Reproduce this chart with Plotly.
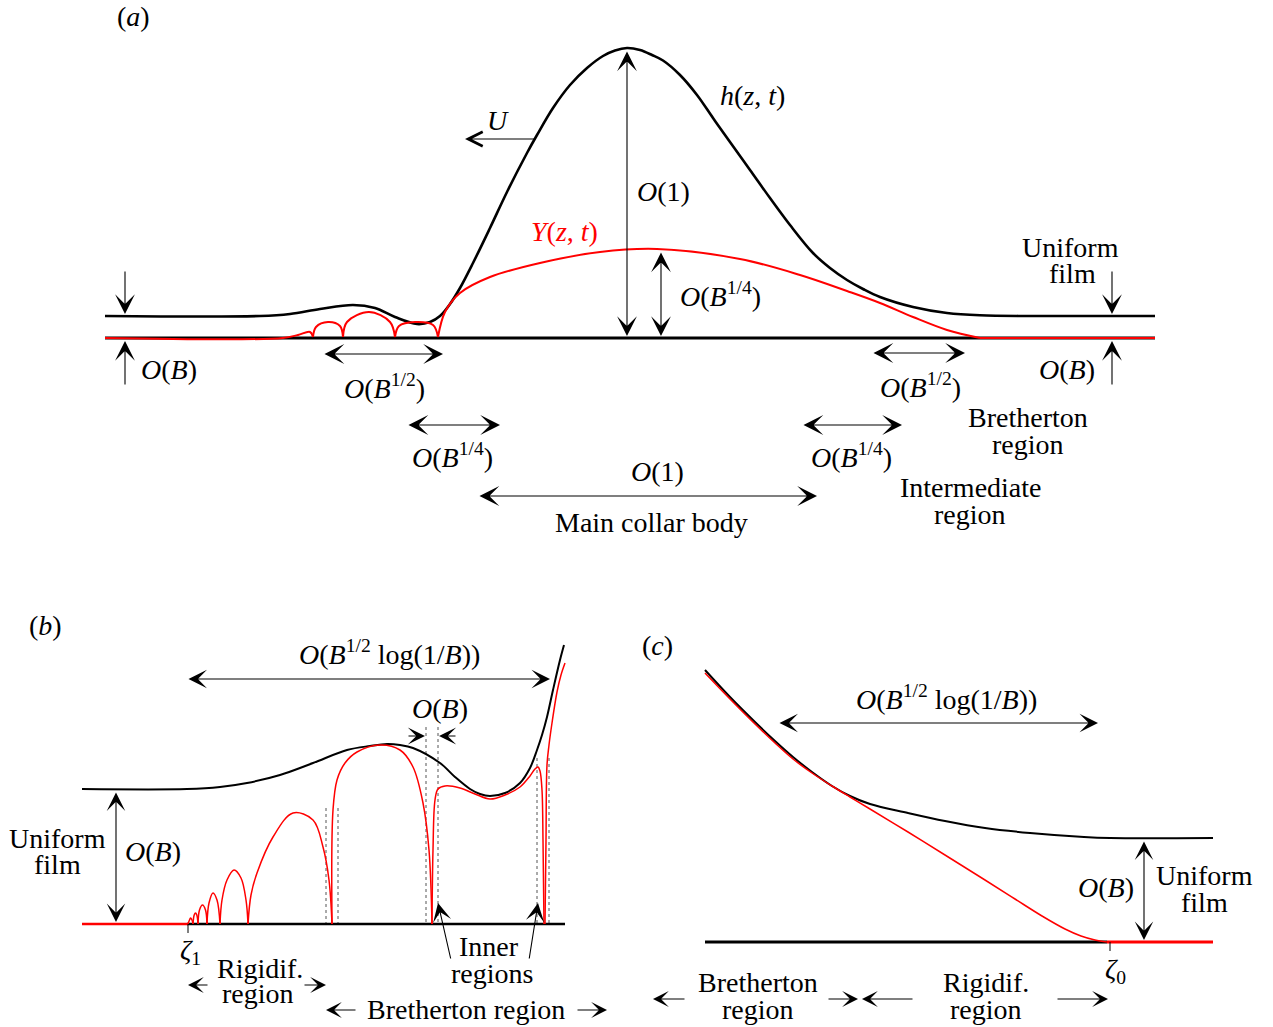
import plotly.graph_objects as go

# ---------------- data (picture coordinates, y downwards) -------------
# Panel (a): collar film h(z,t), rigidified layer Y(z,t), wall
A_H_Z = [105, 260, 290, 320, 353, 375, 395, 417, 430, 440, 450, 460, 473, 490, 507, 527, 537, 553,
         570, 587, 603, 615, 627, 640, 652, 663, 680, 697, 713, 730, 750, 770, 790, 813, 830, 847,
         863, 880, 913, 947, 980, 1030, 1155]
A_H_Y = [316, 316, 314, 309, 305, 308, 317, 324, 322, 316, 304, 288, 263, 228, 192, 153, 135, 108,
         85, 68, 56, 50.5, 48, 50, 55, 60.5, 75, 95, 118, 142, 170, 198, 225, 253, 268, 280,
         289, 297, 307, 313, 315.3, 316, 316]
A_WALL_Z = [105, 1155]
A_WALL_Y = [338, 338]
A_Y_SEG0_Z = [105, 283, 298, 310, 313]
A_Y_SEG0_Y = [338, 338, 335, 332, 337]
A_Y_SEG1_Z = [313, 316, 328, 340, 343]
A_Y_SEG1_Y = [337, 327, 322, 326, 337]
A_Y_SEG2_Z = [343, 347, 369, 390, 395]
A_Y_SEG2_Y = [337, 322, 312, 322, 337]
A_Y_SEG3_Z = [395, 399, 415, 433, 438]
A_Y_SEG3_Y = [337, 326, 322, 325, 337]
A_Y_SEG4_Z = [438, 445, 460, 490, 540, 600, 657, 740, 800, 847, 880, 913, 947, 980]
A_Y_SEG4_Y = [337, 312, 293, 277, 263, 252, 249, 259, 275, 291, 303, 317, 330, 338]
A_Y_SEG5_Z = [980, 1155]
A_Y_SEG5_Y = [338, 338]

# Panel (b)
B_H_Z = [82, 187, 220, 247, 280, 313, 347, 370, 387, 400, 413, 440, 455, 470, 480, 490, 505, 520,
         530, 537, 542, 547, 553, 560, 564]
B_H_Y = [789, 789, 787, 783, 775, 763, 750, 746, 744, 745, 748, 763, 777, 789, 794, 796, 793, 783,
         768, 750, 735, 717, 690, 660, 645]
B_WALL_Z = [187, 565]
B_WALL_Y = [924, 924]
B_Y_FLAT_Z = [82, 188]
B_Y_FLAT_Y = [924, 924]
B_Y_ARCS = [
    ([188, 189.5, 190.5, 192, 193], [924, 920, 918, 920, 924]),
    ([193, 194.2, 195.5, 196.8, 198], [924, 915, 913, 915, 924]),
    ([198, 199.5, 202.5, 205.5, 207], [924, 910, 905, 910, 924]),
    ([207, 209, 213, 217, 220], [924, 903, 893, 900, 924]),
    ([220, 222, 227, 234, 241, 246, 248], [924, 900, 880, 870, 878, 900, 924]),
    ([248, 251, 257, 273, 293, 313, 323, 329, 332], [924, 895, 873, 837, 813, 820, 847, 880, 924]),
    ([332, 333, 337, 345, 357, 380, 400, 413, 423, 429, 432],
     [924, 810, 780, 763, 752, 745, 750, 767, 803, 850, 924]),
    ([432, 433, 435, 438, 445, 460, 475, 490, 505, 520, 530, 535, 538, 540, 542, 543, 544],
     [924, 850, 800, 789, 786, 788, 794, 799, 795, 787, 776, 769, 767, 771, 790, 840, 924]),
    ([545, 546, 547, 549, 552, 557, 561, 565], [924, 840, 765, 745, 723, 692, 675, 663]),
]
B_DOT_Z = [326, 338, 426, 438, 537, 549]
B_DOT_TOP = [808, 808, 727, 727, 758, 758]
B_DOT_BOTTOM = 924

# Panel (c)
C_H_Z = [705, 730, 755, 775, 793, 812, 832, 850, 870, 908, 945, 985, 1030, 1084, 1110, 1213]
C_H_Y = [670, 697, 722, 741, 757, 772, 786, 796, 804, 813, 821, 828, 833, 837, 838, 838]
C_Y_Z = [705, 730, 755, 775, 793, 812, 832, 850, 870, 908, 945, 985, 1015, 1042, 1065, 1081, 1095, 1107]
C_Y_Y = [673, 699, 724, 743, 759, 773, 786, 797, 809, 832, 855, 880, 899, 916, 929, 936, 940, 942]
C_WALL_Z = [705, 1107]
C_WALL_Y = [942, 942]
C_Y_FLAT_Z = [1107, 1213]
C_Y_FLAT_Y = [942, 942]

# Arrows: (head_x, head_y, tail_x, tail_y, double_headed, head_size, style)
ARROWS = [
    # panel (a)
    (125, 314, 125, 270, False, 3.0, 3),
    (125, 341, 125, 386, False, 3.0, 3),
    (1112, 314, 1112, 270, False, 3.0, 3),
    (1112, 341, 1112, 386, False, 3.0, 3),
    (443, 354, 323, 354, True, 3.0, 3),
    (500, 425, 407, 425, True, 3.0, 3),
    (817, 496, 478, 496, True, 3.0, 3),
    (902, 425, 802, 425, True, 3.0, 3),
    (965, 353, 872, 353, True, 3.0, 3),
    (627, 336, 627, 50, True, 3.0, 3),
    (661, 336, 661, 251, True, 3.0, 3),
    (465, 139, 536, 139, False, 2.6, 5),
    # panel (b)
    (550, 679, 187, 679, True, 2.8, 3),
    (425, 736, 407, 736, False, 2.6, 3),
    (439, 736, 457, 736, False, 2.6, 3),
    (116, 922, 116, 791, True, 2.8, 3),
    (438, 903, 451, 960, False, 2.8, 3),
    (538, 903, 529, 960, False, 2.8, 3),
    (188, 985, 209, 985, False, 2.4, 3),
    (326, 985, 303, 985, False, 2.4, 3),
    (326, 1010, 357, 1010, False, 2.4, 3),
    (607, 1010, 576, 1010, False, 2.4, 3),
    # panel (c)
    (1098, 723, 778, 723, True, 2.8, 3),
    (1144, 940, 1144, 840, True, 2.8, 3),
    (653, 999, 686, 999, False, 2.4, 3),
    (858, 999, 827, 999, False, 2.4, 3),
    (862, 999, 914, 999, False, 2.4, 3),
    (1108, 999, 1056, 999, False, 2.4, 3),
]

# Text labels: (x, y, text, colour)
O = "<i>O</i>"
B = "<i>B</i>"
TEXTS = [
    (133, 16, "(<i>a</i>)", "black"),
    (498, 120, "<i>U</i>", "black"),
    (752, 95, "<i>h</i>(<i>z</i>, <i>t</i>)", "black"),
    (663, 191, O + "(1)", "black"),
    (564, 231, "<i>Y</i>(<i>z</i>, <i>t</i>)", "red"),
    (720, 294, O + "(" + B + "<sup>1/4</sup>)", "black"),
    (169, 369, O + "(" + B + ")", "black"),
    (384, 386, O + "(" + B + "<sup>1/2</sup>)", "black"),
    (452, 455, O + "(" + B + "<sup>1/4</sup>)", "black"),
    (657, 471, O + "(1)", "black"),
    (651, 522, "Main collar body", "black"),
    (851, 455, O + "(" + B + "<sup>1/4</sup>)", "black"),
    (970, 487, "Intermediate", "black"),
    (970, 514, "region", "black"),
    (920, 385, O + "(" + B + "<sup>1/2</sup>)", "black"),
    (1028, 417, "Bretherton", "black"),
    (1028, 444, "region", "black"),
    (1067, 369, O + "(" + B + ")", "black"),
    (1070, 247, "Uniform", "black"),
    (1072, 273, "film", "black"),
    # panel (b)
    (45, 625, "(<i>b</i>)", "black"),
    (389, 652, O + "(" + B + "<sup>1/2</sup> log(1/" + B + "))", "black"),
    (440, 708, O + "(" + B + ")", "black"),
    (153, 851, O + "(" + B + ")", "black"),
    (57, 838, "Uniform", "black"),
    (57, 864, "film", "black"),
    (190, 951, "<i>ζ</i><sub>1</sub>", "black"),
    (489, 946, "Inner", "black"),
    (492, 973, "regions", "black"),
    (260, 968, "Rigidif.", "black"),
    (258, 993, "region", "black"),
    (466, 1009, "Bretherton region", "black"),
    # panel (c)
    (657, 645, "(<i>c</i>)", "black"),
    (946, 697, O + "(" + B + "<sup>1/2</sup> log(1/" + B + "))", "black"),
    (1106, 887, O + "(" + B + ")", "black"),
    (1204, 875, "Uniform", "black"),
    (1204, 902, "film", "black"),
    (1115, 970, "<i>ζ</i><sub>0</sub>", "black"),
    (758, 982, "Bretherton", "black"),
    (758, 1009, "region", "black"),
    (986, 982, "Rigidif.", "black"),
    (986, 1009, "region", "black"),
]
TICKS = [(188, 924, 933), (1110, 942, 951)]

FONT = "Liberation Serif"
FS = 28

fig = go.Figure()


def line(z, y, color, width, shape="spline", dash=None):
    fig.add_trace(go.Scatter(x=z, y=y, mode="lines", hoverinfo="skip", showlegend=False,
                             line=dict(color=color, width=width, shape=shape, dash=dash,
                                       smoothing=1.0 if shape == "spline" else None)))


# panel (a)
line(A_WALL_Z, A_WALL_Y, "black", 3, "linear")
line(A_H_Z, A_H_Y, "black", 2.6)
for zz, yy in [(A_Y_SEG0_Z, A_Y_SEG0_Y), (A_Y_SEG1_Z, A_Y_SEG1_Y), (A_Y_SEG2_Z, A_Y_SEG2_Y),
               (A_Y_SEG3_Z, A_Y_SEG3_Y), (A_Y_SEG4_Z, A_Y_SEG4_Y), (A_Y_SEG5_Z, A_Y_SEG5_Y)]:
    line(zz, yy, "red", 2)

# panel (b)
for xz, top in zip(B_DOT_Z, B_DOT_TOP):
    line([xz, xz], [top, B_DOT_BOTTOM], "#555555", 1, "linear", "dot")
line(B_WALL_Z, B_WALL_Y, "black", 2.6, "linear")
line(B_H_Z, B_H_Y, "black", 2)
line(B_Y_FLAT_Z, B_Y_FLAT_Y, "red", 2.6, "linear")
for zz, yy in B_Y_ARCS:
    line(zz, yy, "red", 1.5)

# panel (c)
line(C_WALL_Z, C_WALL_Y, "black", 3, "linear")
line(C_H_Z, C_H_Y, "black", 2)
line(C_Y_Z, C_Y_Y, "red", 1.5)
line(C_Y_FLAT_Z, C_Y_FLAT_Y, "red", 3, "linear")

for tx, y0, y1 in TICKS:
    line([tx, tx], [y0, y1], "black", 1, "linear")

anns = []
for hx, hy, tx, ty, dbl, size, style in ARROWS:
    anns.append(dict(x=hx, y=hy, ax=tx, ay=ty, xref="x", yref="y", axref="x", ayref="y",
                     text="", showarrow=True, arrowhead=style, startarrowhead=style,
                     arrowside="end+start" if dbl else "end", arrowsize=size,
                     startarrowsize=size, arrowwidth=1.1, arrowcolor="black"))
for x, y, t, c in TEXTS:
    anns.append(dict(x=x, y=y, xref="x", yref="y", text=t, showarrow=False,
                     xanchor="center", yanchor="middle", borderpad=0,
                     font=dict(family=FONT, size=FS, color=c)))

fig.update_layout(
    width=1273, height=1027, margin=dict(l=0, r=0, t=0, b=0),
    paper_bgcolor="white", plot_bgcolor="white",
    xaxis=dict(range=[0, 1273], visible=False, fixedrange=True),
    yaxis=dict(range=[1027, 0], visible=False, fixedrange=True),
    annotations=anns,
)

fig.write_html("out.html", config={"displayModeBar": False},
               post_script="document.body.style.margin='0';document.body.style.overflow='hidden';")
